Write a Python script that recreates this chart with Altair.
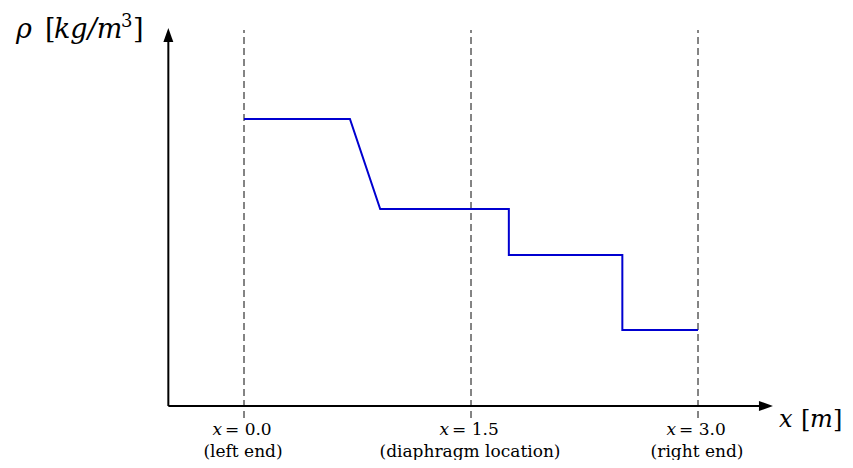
import altair as alt
import pandas as pd

# ---- data ----
profile_x = [0.0, 0.70, 0.90, 1.75, 1.75, 2.50, 2.50, 3.0]
profile_rho = [1.0, 1.0, 0.686, 0.686, 0.526, 0.526, 0.265, 0.265]

marker_x = [0.0, 1.5, 3.0]
marker_values = ["= 0.0", "= 1.5", "= 3.0"]
marker_notes = ["(left end)", "(diaphragm location)", "(right end)"]

# axis frame (data coordinates)
axis_x = [-0.5, -0.5]
axis_x2 = [3.403, -0.5]
axis_y = [0.0, 0.0]
axis_y2 = [0.0, 1.268]

arrow_x = [3.449, -0.5]
arrow_y = [0.0, 1.293]
arrow_shape = ["M1,0L-1,0.71L-1,-0.71Z", "M0,-1L0.71,1L-0.71,1Z"]

dash_bottom = -0.042
dash_top = 1.31

X_DOMAIN = [-1.5595, 3.9713]
Y_DOMAIN = [-0.1882, 1.3868]

FONT = "DejaVu Serif"
xs = alt.Scale(domain=X_DOMAIN, nice=False, zero=False)
ys = alt.Scale(domain=Y_DOMAIN, nice=False, zero=False)


def X(f="x"):
    return alt.X(f, type="quantitative", scale=xs, axis=None)


def Y(f="y"):
    return alt.Y(f, type="quantitative", scale=ys, axis=None)


# dashed markers
dash_df = pd.DataFrame({"x": marker_x, "y": [dash_bottom] * 3, "y2": [dash_top] * 3})
dashes = alt.Chart(dash_df).mark_rule(
    color="#333333", strokeWidth=1.2, strokeDash=[7, 4]
).encode(x=X(), y=Y(), y2="y2:Q")

# axes
axis_df = pd.DataFrame({"x": axis_x, "x2": axis_x2, "y": axis_y, "y2": axis_y2})
axes = alt.Chart(axis_df).mark_rule(color="black", strokeWidth=2).encode(
    x=X(), x2="x2:Q", y=Y(), y2="y2:Q"
)

arrow_layers = []
for ax, ay, shp in zip(arrow_x, arrow_y, arrow_shape):
    adf = pd.DataFrame({"x": [ax], "y": [ay]})
    arrow_layers.append(
        alt.Chart(adf).mark_point(
            shape=shp, size=196, filled=True, color="black", opacity=1, strokeWidth=0
        ).encode(x=X(), y=Y())
    )

# density profile
prof_df = pd.DataFrame({"x": profile_x, "y": profile_rho, "i": list(range(len(profile_x)))})
profile = alt.Chart(prof_df).mark_line(color="#0000d0", strokeWidth=2).encode(
    x=X(), y=Y(), order="i:Q"
)

# marker labels
row1 = -0.101
row2 = -0.178
lab_df = pd.DataFrame({"x": marker_x, "y": [row1] * 3, "t": marker_values})
lab_val = alt.Chart(lab_df).mark_text(
    font=FONT, fontSize=17, align="left", baseline="alphabetic", dx=-19, color="black"
).encode(x=X(), y=Y(), text="t:N")
lab_x = alt.Chart(lab_df).mark_text(
    font=FONT, fontSize=17, fontStyle="italic", align="right", baseline="alphabetic",
    dx=-22, color="black"
).encode(x=X(), y=Y(), text=alt.value("x"))
note_df = pd.DataFrame({"x": marker_x, "y": [row2] * 3, "t": marker_notes})
notes = alt.Chart(note_df).mark_text(
    font=FONT, fontSize=17, align="center", baseline="alphabetic", dx=-1, color="black"
).encode(x=X(), y=Y(), text="t:N")

# y-axis title pieces
yt_ital = pd.DataFrame({"x": [-1.5066, -1.2555], "y": [1.282, 1.282], "t": ["ρ", "kg/m"]})
yt_rom = pd.DataFrame({"x": [-1.3150, -0.7335], "y": [1.282, 1.282], "t": ["[", "]"]})
sup_df = pd.DataFrame({"x": [-0.8128], "y": [1.321], "t": ["3"]})
# x-axis title pieces
xt_ital = pd.DataFrame({"x": [3.535, 3.7402], "y": [-0.0732, -0.0732], "t": ["x", "m"]})
xt_rom = pd.DataFrame({"x": [3.681, 3.8921], "y": [-0.0732, -0.0732], "t": ["[", "]"]})


def txt(df, size, italic=False):
    kw = dict(font=FONT, fontSize=size, align="left", baseline="alphabetic", color="black")
    if italic:
        kw["fontStyle"] = "italic"
    return alt.Chart(df).mark_text(**kw).encode(x=X(), y=Y(), text="t:N")


titles = [
    txt(yt_ital, 27, True), txt(yt_rom, 27), txt(sup_df, 18),
    txt(xt_ital, 24, True), txt(xt_rom, 24),
]

chart = alt.layer(
    dashes, axes, *arrow_layers, profile, lab_val, lab_x, notes, *titles
).properties(
    width=837, height=452, padding=0, autosize=alt.AutoSizeParams(type="none")
).configure_view(stroke=None)

chart.save("out.html", embed_options={"renderer": "svg", "actions": False})
